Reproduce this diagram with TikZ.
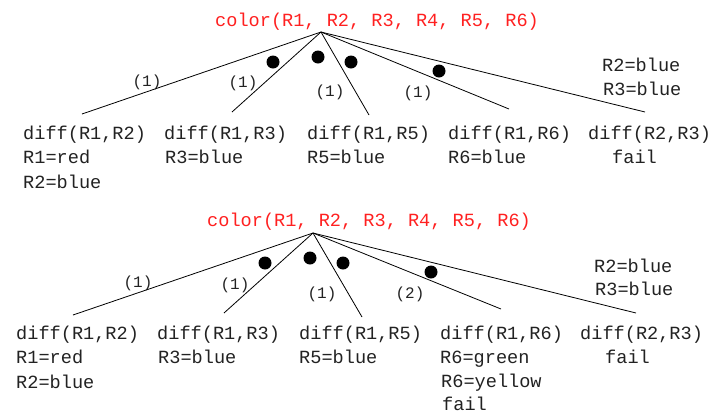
\documentclass[tikz,border=0pt]{standalone}
\usepackage{fontspec}
\setmonofont{Liberation Mono}
\definecolor{txt}{HTML}{222222}
\definecolor{rootred}{HTML}{FF2020}
\tikzset{
  lbl/.style={inner sep=0pt, anchor=base west, text=txt, font=\ttfamily\fontsize{18.6}{24}\selectfont},
  rootlbl/.style={lbl, text=rootred},
  num/.style={inner sep=0pt, anchor=center, text=txt, font=\ttfamily\fontsize{16}{20}\selectfont},
  edge/.style={draw=black, line width=0.8pt},
  dotn/.style={circle, fill=black, inner sep=0pt, minimum size=13pt}
}
\begin{document}
\begin{tikzpicture}[x=1pt,y=-1pt]
\useasboundingbox (0,0) rectangle (724,413);
% ---------- top tree ----------
\node[rootlbl] (r1) at (215,26) {color(R1, R2, R3, R4, R5, R6)};
\coordinate (a1) at (321,32);
\coordinate (e11) at (82,114);
\coordinate (e12) at (232,112);
\coordinate (e13) at (369,115);
\coordinate (e14) at (509,109);
\coordinate (e15) at (645,112);
\foreach \e in {e11,e12,e13,e14,e15} \draw[edge] (a1) -- (\e);
\node[dotn] (d11) at (273,62) {};
\node[dotn] (d12) at (318,57) {};
\node[dotn] (d13) at (351,62) {};
\node[dotn] (d14) at (439,71) {};
\node[num] (n11) at (147,82) {(1)};
\node[num] (n12) at (243,83) {(1)};
\node[num] (n13) at (330,92) {(1)};
\node[num] (n14) at (418,93) {(1)};
\node[lbl] (c1) at (602,71) {R2=blue};
\node[lbl] (c2) at (603,95) {R3=blue};
\node[lbl] (t1a) at (23,139) {diff(R1,R2)};
\node[lbl] (t1b) at (23,163) {R1=red};
\node[lbl] (t1c) at (23,188) {R2=blue};
\node[lbl] (t2a) at (164,139) {diff(R1,R3)};
\node[lbl] (t2b) at (165,163) {R3=blue};
\node[lbl] (t3a) at (307,139) {diff(R1,R5)};
\node[lbl] (t3b) at (307,163) {R5=blue};
\node[lbl] (t4a) at (448,139) {diff(R1,R6)};
\node[lbl] (t4b) at (448,163) {R6=blue};
\node[lbl] (t5a) at (588,139) {diff(R2,R3)};
\node[lbl] (t5b) at (612,163) {fail};
% ---------- bottom tree ----------
\node[rootlbl] (r2) at (207,226) {color(R1, R2, R3, R4, R5, R6)};
\coordinate (a2) at (313,233);
\coordinate (e21) at (73,315);
\coordinate (e22) at (224,313);
\coordinate (e23) at (362,317);
\coordinate (e24) at (501,309);
\coordinate (e25) at (636,313);
\foreach \e in {e21,e22,e23,e24,e25} \draw[edge] (a2) -- (\e);
\node[dotn] (d21) at (265,263) {};
\node[dotn] (d22) at (310,258) {};
\node[dotn] (d23) at (343,263) {};
\node[dotn] (d24) at (431,272) {};
\node[num] (n21) at (138,283) {(1)};
\node[num] (n22) at (235,285) {(1)};
\node[num] (n23) at (322,294) {(1)};
\node[num] (n24) at (410,294) {(2)};
\node[lbl] (c3) at (594,272) {R2=blue};
\node[lbl] (c4) at (595,295) {R3=blue};
\node[lbl] (b1a) at (16,339) {diff(R1,R2)};
\node[lbl] (b1b) at (16,363) {R1=red};
\node[lbl] (b1c) at (16,388) {R2=blue};
\node[lbl] (b2a) at (157,339) {diff(R1,R3)};
\node[lbl] (b2b) at (158,363) {R3=blue};
\node[lbl] (b3a) at (299,339) {diff(R1,R5)};
\node[lbl] (b3b) at (299,363) {R5=blue};
\node[lbl] (b4a) at (440,339) {diff(R1,R6)};
\node[lbl] (b4b) at (440,363) {R6=green};
\node[lbl] (b4c) at (441,387) {R6=yellow};
\node[lbl] (b4d) at (442,410) {fail};
\node[lbl] (b5a) at (580,339) {diff(R2,R3)};
\node[lbl] (b5b) at (605,363) {fail};
\end{tikzpicture}
\end{document}
